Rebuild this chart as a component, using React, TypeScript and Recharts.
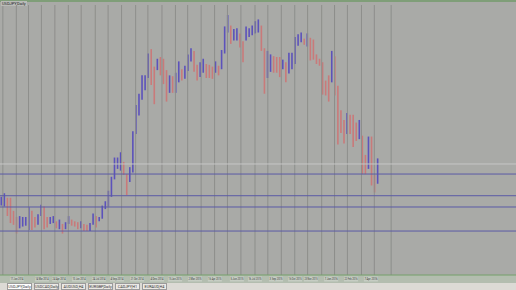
import { Bar, Cell, ComposedChart, ReferenceLine, XAxis, YAxis } from 'recharts';

// USDJPY weekly ranges, Jan 2014 .. May 2016 (one entry per week)
const weekLows = [
  104.0, 103.9, 102.8, 102.0, 101.8, 100.8, 101.4, 101.6, 101.7, 101.2,
  101.2, 101.5, 101.8, 102.8, 101.3, 101.5, 101.9, 102.0, 101.4, 101.3,
  100.8, 101.3, 101.9, 101.7, 101.6, 101.3, 101.4, 101.1, 101.1, 101.1,
  101.8, 101.5, 102.2, 102.5, 103.6, 103.9, 105.0, 107.0, 108.2, 108.0,
  107.5, 105.2, 106.7, 107.8, 112.2, 114.3, 116.1, 117.2, 118.6, 117.8,
  115.6, 119.5, 118.9, 117.9, 115.9, 116.9, 116.9, 116.9, 118.1, 118.3,
  118.5, 119.4, 120.5, 119.3, 118.3, 118.7, 119.2, 118.6, 118.6, 118.5,
  119.2, 118.9, 119.6, 121.4, 123.8, 122.5, 122.9, 122.9, 122.1, 120.4,
  122.9, 123.3, 123.5, 123.7, 123.8, 121.7, 116.8, 118.6, 119.3, 119.2,
  119.2, 118.7, 119.6, 118.1, 119.1, 119.6, 120.2, 122.3, 122.7, 122.4,
  122.2, 120.6, 120.7, 120.2, 120.0, 116.7, 116.6, 115.9, 118.1, 116.6,
  111.0, 112.3, 111.1, 112.2, 112.2, 110.7, 111.4, 111.6, 107.6, 107.6,
  108.2, 106.3, 105.5, 106.5,
];
const weekHighs = [
  105.0, 105.4, 104.9, 104.9, 103.4, 102.7, 102.8, 102.7, 102.7, 103.8,
  103.4, 102.7, 103.0, 104.1, 103.9, 102.7, 102.7, 102.8, 102.2, 102.4,
  101.9, 102.1, 102.8, 102.4, 102.2, 102.1, 102.2, 101.9, 101.8, 102.0,
  103.1, 102.8, 102.7, 104.0, 104.5, 105.7, 107.3, 109.5, 109.5, 110.1,
  109.0, 107.6, 108.4, 112.5, 115.5, 116.8, 118.9, 118.9, 121.4, 121.9,
  119.9, 120.8, 121.0, 120.8, 119.5, 118.9, 118.8, 119.2, 120.5, 119.6,
  120.0, 121.3, 122.0, 121.7, 120.1, 120.4, 120.8, 120.2, 120.1, 119.9,
  120.5, 120.0, 121.8, 124.5, 125.8, 124.6, 124.2, 124.3, 123.7, 122.8,
  124.5, 124.3, 124.6, 125.1, 125.3, 124.6, 122.0, 121.7, 121.3, 121.1,
  121.0, 121.0, 120.7, 120.4, 121.5, 121.5, 123.3, 123.6, 123.8, 123.1,
  123.7, 123.2, 123.0, 121.3, 120.8, 120.4, 118.3, 118.9, 121.7, 121.1,
  117.7, 114.9, 113.8, 114.6, 114.4, 114.4, 113.5, 113.8, 112.0, 109.8,
  111.9, 111.9, 107.5, 109.4,
];

// month separators (position in weeks from the first bar)
const monthStarts = [
  0.6, 5.0, 9.0, 13.2, 17.6, 22.0, 26.2, 30.8, 35.0, 39.4, 44.0, 48.0, 52.6, 57.0, 61.0,
  65.4, 69.8, 74.0, 78.4, 83.0, 87.2, 91.6, 96.0, 100.2, 104.8, 109.0, 113.2, 117.8, 122.0, 127.5,
];

// date scale labels
const tickWeeks = [
  2.9, 11.1, 16.7, 23.2, 29.7, 35.6, 42.2, 48.7, 54.6, 61.1, 67.6, 74.8, 80.7, 87.6, 93.8, 99.0,
  105.6, 112.1, 118.6,
];
const tickLabels = [
  '17 Jan 2014', '14 Mar 2014', '24 Apr 2014', '10 Jun 2014', '24 Jul 2014', '4 Sep 2014',
  '21 Oct 2014', '4 Dec 2014', '15 Jan 2015', '2 Mar 2015', '16 Apr 2015', '5 Jun 2015',
  '16 Jul 2015', '3 Sep 2015', '16 Oct 2015', '23 Nov 2015', '7 Jan 2016', '22 Feb 2016',
  '7 Apr 2016',
];

const levelLines = [107.61, 105.13, 103.84, 101.09];
const bidLevel = 108.76;

const tabs = ['USDJPY,Daily', 'USDCAD,Daily', 'AUDUSD,H4', 'EURGBP,Daily', 'CADJPY,H1', 'EURAUD,H4'];

const data = weekLows.map((lo, i) => ({ w: i, range: [lo, weekHighs[i]] }));
const mids = weekLows.map((lo, i) => (lo + weekHighs[i]) / 2);

function DateTick(props: any) {
  const { x, y, payload } = props;
  const idx = tickWeeks.indexOf(payload.value);
  const label = idx >= 0 ? tickLabels[idx] : '';
  return (
    <g>
      <rect x={x} y={y + 1.5} width={14} height={5} fill="#c6cdc3" />
      <text
        x={x + 0.5}
        y={y + 5.3}
        fontSize={3.2}
        fill="#3a3a3a"
        textAnchor="start"
        textLength={13}
        lengthAdjust="spacingAndGlyphs"
      >
        {label}
      </text>
    </g>
  );
}

export default function App() {
  return (
    <div
      style={{
        position: 'absolute',
        left: 0,
        top: 0,
        width: 516,
        height: 290,
        background: '#a9aaa7',
        overflow: 'hidden',
        fontFamily: 'Roboto, sans-serif',
      }}
    >
      <div style={{ position: 'absolute', left: 0, top: 0, width: 516, height: 2, background: '#7f9e78' }} />
      <div style={{ position: 'absolute', left: 0, top: 275, width: 516, height: 8, background: '#b3bdaf' }} />
      <div style={{ position: 'absolute', left: 0, top: 0 }}>
        <ComposedChart width={516} height={283} data={data} margin={{ top: 5, right: 0, left: 0, bottom: 0 }}>
          <XAxis
            dataKey="w"
            type="number"
            domain={[-0.33, 168.3]}
            ticks={tickWeeks}
            interval={0}
            height={8}
            tickLine={false}
            tickSize={0}
            tickMargin={0}
            axisLine={{ stroke: '#74a06a' }}
            tick={<DateTick />}
          />
          <YAxis hide type="number" domain={[96.06, 126.95]} allowDataOverflow />
          {monthStarts.map((m) => (
            <ReferenceLine key={'m' + m} x={m} stroke="#8d8e8b" strokeWidth={1} />
          ))}
          <ReferenceLine y={bidLevel} stroke="#c6c6c6" strokeWidth={1} />
          {levelLines.map((l) => (
            <ReferenceLine key={'l' + l} y={l} stroke="#5a5aa6" strokeWidth={1} />
          ))}
          <Bar dataKey="range" barSize={1.6} isAnimationActive={false}>
            {data.map((d, i) => (
              <Cell key={i} fill={i > 0 && mids[i] < mids[i - 1] ? '#c97a7a' : '#5c52bb'} />
            ))}
          </Bar>
        </ComposedChart>
      </div>
      <div
        style={{
          position: 'absolute',
          left: 1,
          top: 1,
          fontSize: 4,
          lineHeight: '5px',
          color: '#222',
          background: '#b9bbb7',
          padding: '0 1px',
        }}
      >
        USDJPY,Daily
      </div>
      <div
        style={{
          position: 'absolute',
          left: 0,
          top: 283,
          width: 516,
          height: 7,
          background: '#dcdad5',
          display: 'flex',
          alignItems: 'flex-start',
          paddingLeft: 7,
          gap: 2,
        }}
      >
        {tabs.map((t, i) => (
          <div
            key={t}
            style={{
              fontSize: 3.8,
              lineHeight: '6px',
              height: 7,
              width: 25,
              textAlign: 'center',
              color: '#333',
              background: i === 0 ? '#ffffff' : '#ebe9e5',
              border: '0.5px solid #9a9a9a',
              boxSizing: 'border-box',
              whiteSpace: 'nowrap',
            }}
          >
            {t}
          </div>
        ))}
      </div>
    </div>
  );
}
